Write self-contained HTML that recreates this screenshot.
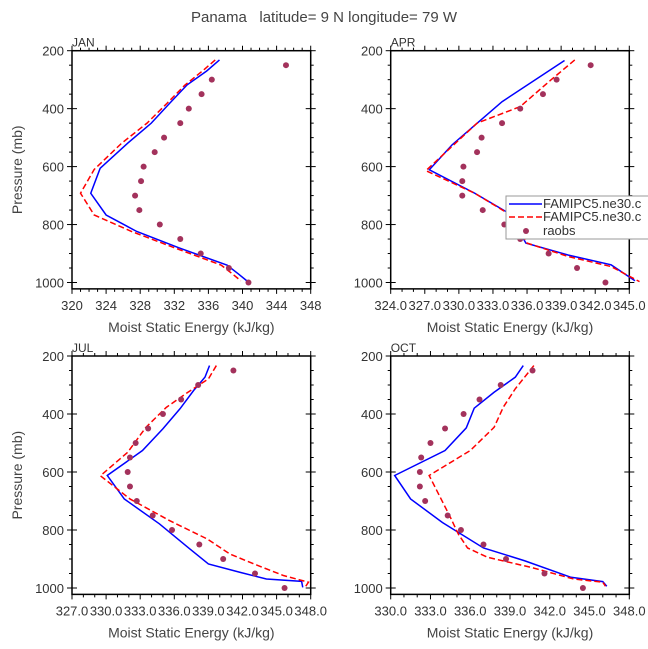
<!DOCTYPE html>
<html><head><meta charset="utf-8"><style>
body{margin:0;background:#fff;}
svg{display:block;font-family:"Liberation Sans",sans-serif;}
text{white-space:pre;}
</style></head><body>
<svg id="fig" width="648" height="649" viewBox="0 0 648 649">
<text x="324" y="22" text-anchor="middle" font-size="15" fill="#444" xml:space="preserve">Panama   latitude= 9 N longitude= 79 W</text>
</svg>
<script>
// ---- data ----
const janBlueP=[232,270,318,380,450,520,606,692,767,824,880,940,970,994];
const janBlueX=[337.3,335.8,333.5,331.5,329.3,326.5,323.3,322.2,324.0,327.6,332.5,338.2,339.5,340.5];
const janRedP=[232,270,320,380,450,520,610,692,767,824,880,940,970,994];
const janRedX=[336.8,335.3,333.2,331.2,328.8,325.8,322.6,321.0,322.6,327.0,332.0,337.5,338.8,339.8];
const obsP=[250,300,350,400,450,500,550,600,650,700,750,800,850,900,950,1000];
const janObs=[345.1,336.4,335.2,333.7,332.7,330.8,329.7,328.4,328.1,327.4,327.9,330.3,332.7,335.1,338.4,340.7];

const aprBlueP=[234,376,525,611,692,761,864,905,939,994];
const aprBlueX=[339.3,333.8,329.4,327.4,331.4,334.4,335.9,339.6,343.4,345.5];
const aprRedP=[232,301,393,450,614,692,761,864,910,945,997];
const aprRedX=[340.2,338.1,335.4,331.6,327.1,331.4,334.3,336.0,339.6,343.4,345.9];
const aprObs=[341.6,338.6,337.4,335.4,333.8,332.0,331.6,330.4,330.3,330.3,332.1,334.0,335.4,337.9,340.4,342.9];

const julBlueP=[233,273,319,382,451,526,612,693,779,863,917,946,969,977,998];
const julBlueX=[339.1,338.7,337.7,336.5,335.0,333.2,330.1,331.6,334.7,337.3,339.0,341.8,344.1,347.2,347.3];
const julRedP=[233,279,325,377,446,532,613,693,768,831,883,917,957,980,998];
const julRedX=[339.7,339.0,337.2,335.3,333.5,331.9,329.5,332.1,335.6,338.9,340.9,343.0,345.6,347.8,347.5];
const julObs=[341.2,338.1,336.6,335.0,333.7,332.6,332.1,331.9,332.1,332.7,334.1,335.8,338.2,340.3,343.1,345.7];

const octBlueP=[233,273,325,380,448,526,612,693,774,862,906,963,978,994];
const octBlueX=[340.0,339.4,337.8,336.3,335.7,334.1,330.3,331.5,333.9,337.0,340.1,343.6,346.0,346.3];
const octRedP=[233,313,376,446,526,612,756,814,862,894,929,969,980,994];
const octRedX=[340.8,339.4,338.5,337.8,336.0,332.9,334.5,335.1,335.8,337.3,340.6,343.8,346.0,346.2];
const octObs=[340.7,338.3,336.7,335.5,334.1,333.0,332.3,332.2,332.2,332.6,334.3,335.3,337.0,338.7,341.6,344.5];

const janTicks=[320,324,328,332,336,340,344,348];
const aprTicks=[324,327,330,333,336,339,342,345];
const julTicks=[327,330,333,336,339,342,345,348];
const octTicks=[330,333,336,339,342,345,348];
const pTicks=[200,400,600,800,1000];

const NS='http://www.w3.org/2000/svg';
const svg=document.getElementById('fig');
function mk(tag,attrs,parent){const e=document.createElementNS(NS,tag);for(const k in attrs)e.setAttribute(k,attrs[k]);(parent||svg).appendChild(e);return e;}

function panel(name,x0,x1,ytop,y1000,xmin,xmax,ticks,minorStep,labelFmt,blueP,blueX,redP,redX,obs,showYTitle){
  const g=mk('g',{});
  
  
  const sx=v=>x0+(v-xmin)/(xmax-xmin)*(x1-x0);
  const sy=p=>ytop+(p-200)/800*(y1000-ytop);
  const ybot=sy(1022);
  const fr=mk('rect',{x:x0,y:ytop,width:x1-x0,height:ybot-ytop,fill:'none',stroke:'#000','stroke-width':1.5},g);
  
  
  for(let v=xmin;v<=xmax+1e-6;v+=minorStep){
    const major=ticks.some(t=>Math.abs(t-v)<1e-6);const L=major?5:3;
    mk('line',{x1:sx(v),x2:sx(v),y1:ybot,y2:ybot+L,stroke:'#000'},g);
    mk('line',{x1:sx(v),x2:sx(v),y1:ytop,y2:ytop-L,stroke:'#000'},g);
  }
  ticks.forEach(t=>{
    const tx=mk('text',{x:sx(t),y:ybot+21,'text-anchor':'middle','font-size':13,fill:'#333'},g);
    tx.textContent=labelFmt(t);
    
    
  });
  for(let p=200;p<=1000;p+=50){
    const major=p%200===0;const L=major?5:3;
    mk('line',{x1:x0-L,x2:x0+(major?5:0),y1:sy(p),y2:sy(p),stroke:'#000'},g);
    mk('line',{x1:x1+L,x2:x1-(major?5:0),y1:sy(p),y2:sy(p),stroke:'#000'},g);
  }
  pTicks.forEach(p=>{
    const tx=mk('text',{x:x0-8,y:sy(p)+5,'text-anchor':'end','font-size':13,fill:'#333'},g);
    tx.textContent=p;
    
    
  });
  const lab=mk('text',{x:x0,y:ytop-4,'font-size':12,fill:'#333'},g);
  lab.textContent=name.toUpperCase();
  
  
  const xt=mk('text',{x:(x0+x1)/2,y:ybot+43,'text-anchor':'middle','font-size':14,fill:'#444'},g);
  xt.textContent='Moist Static Energy (kJ/kg)';
  
  
  if(showYTitle){
    const cy=(ytop+ybot)/2;
    const yt=mk('text',{x:22,y:cy,'text-anchor':'middle','font-size':14,fill:'#444',transform:'rotate(-90 22 '+cy+')'},g);
    yt.textContent='Pressure (mb)';
    
    
  }
  const bl=mk('polyline',{points:blueP.map((p,i)=>sx(blueX[i])+','+sy(p)).join(' '),fill:'none',stroke:'#0000ff','stroke-width':1.5},g);
  
  
  const rl=mk('polyline',{points:redP.map((p,i)=>sx(redX[i])+','+sy(p)).join(' '),fill:'none',stroke:'#ff0000','stroke-width':1.5,'stroke-dasharray':'6,3'},g);
  
  
  obsP.forEach((p,i)=>{
    const c=mk('circle',{cx:sx(obs[i]),cy:sy(p),r:3,fill:'#a3325c'},g);
    
    
  });
}
const f0=v=>String(v);
const f1=v=>v.toFixed(1);
panel('jan',72,310.7,50.7,282.5,320,348,janTicks,1,f0,janBlueP,janBlueX,janRedP,janRedX,janObs,true);
panel('apr',390.7,629.3,50.7,282.5,324,345,aprTicks,1,f1,aprBlueP,aprBlueX,aprRedP,aprRedX,aprObs,false);
panel('jul',72,310.7,356,588,327,348,julTicks,1,f1,julBlueP,julBlueX,julRedP,julRedX,julObs,true);
panel('oct',390.7,629.3,356,588,330,348,octTicks,1,f1,octBlueP,octBlueX,octRedP,octRedX,octObs,false);

const lg=mk('g',{});


mk('rect',{x:506,y:196,width:150,height:43,fill:'#fff',stroke:'#999','stroke-width':1},lg);
mk('line',{x1:509,x2:542,y1:204,y2:204,stroke:'#0000ff','stroke-width':1.5},lg);
mk('line',{x1:509,x2:542,y1:217,y2:217,stroke:'#ff0000','stroke-width':1.5,'stroke-dasharray':'6,3'},lg);
mk('circle',{cx:526,cy:231,r:3,fill:'#a3325c'},lg);
[['FAMIPC5.ne30.c',208],['FAMIPC5.ne30.c',221],['raobs',235]].forEach((d,i)=>{
  const t=mk('text',{x:543,y:d[1],'font-size':13,fill:'#333'},lg);
  t.textContent=d[0];
  
  
});
</script>
</body></html>
